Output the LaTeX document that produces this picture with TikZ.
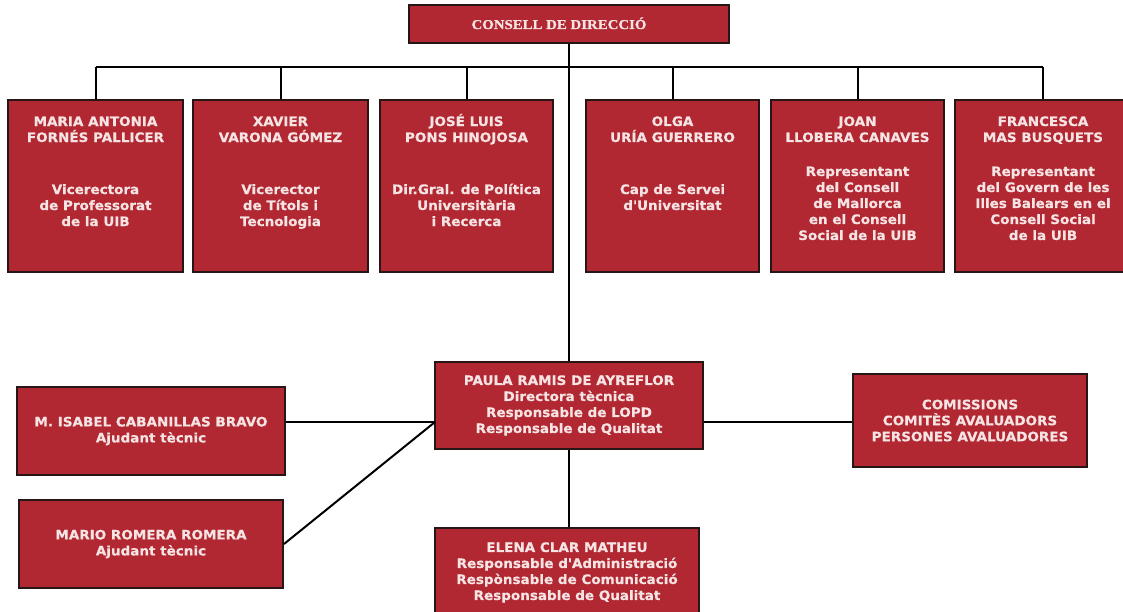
\documentclass[tikz,border=0pt]{standalone}
\usepackage{fontspec}
\setmainfont{DejaVu Sans}[FakeStretch=1.04, BoldFeatures={FakeBold=0.5}]
\newfontfamily\titlefont{Liberation Serif}[FakeStretch=1.1, BoldFeatures={FakeBold=0.8}]
\definecolor{boxred}{RGB}{178,40,50}
\definecolor{boxtext}{RGB}{246,228,228}
\definecolor{boxline}{RGB}{40,22,22}
\begin{document}
\begin{tikzpicture}[x=1pt,y=-1pt,
  box/.style={draw=boxline, line width=2pt, fill=boxred, inner sep=0pt},
  txt/.style={text=boxtext, font=\bfseries\fontsize{13}{16}\selectfont, align=center, inner sep=0pt},
  ttl/.style={text=boxtext, font=\titlefont\bfseries\fontsize{13.5}{14}\selectfont, inner sep=0pt},
  conn/.style={draw=black, line width=2pt}]
\path[use as bounding box, fill=white] (0,0) rectangle (1123,612);

% boxes
\node[box, minimum width=320pt, minimum height=38pt] (top) at (569,24) {};
\node[box, minimum width=175pt, minimum height=172pt] (m1) at (95.5,186) {};
\node[box, minimum width=175pt, minimum height=172pt] (m2) at (280.5,186) {};
\node[box, minimum width=173pt, minimum height=172pt] (m3) at (466.5,186) {};
\node[box, minimum width=173pt, minimum height=172pt] (m4) at (672.5,186) {};
\node[box, minimum width=173pt, minimum height=172pt] (m5) at (857.5,186) {};
\node[box, minimum width=176pt, minimum height=172pt] (m6) at (1043,186) {};

\node[box, txt, minimum width=268pt, minimum height=87pt] (paula) at (569,405.5)
  {PAULA RAMIS DE AYREFLOR\\Directora tècnica\\Responsable de LOPD\\Responsable de Qualitat};
\node[box, txt, minimum width=264pt, minimum height=89pt] (elena) at (567,572.5)
  {ELENA CLAR MATHEU\\Responsable d\textquotesingle Administració\\Respònsable de Comunicació\\Responsable de Qualitat};
\node[box, txt, minimum width=268pt, minimum height=88pt] (isabel) at (151,431)
  {M. ISABEL CABANILLAS BRAVO\\Ajudant tècnic};
\node[box, txt, minimum width=264pt, minimum height=88pt] (mario) at (151,544)
  {MARIO ROMERA ROMERA\\Ajudant tècnic};
\node[box, txt, minimum width=234pt, minimum height=93pt] (comm) at (970,420.5)
  {COMISSIONS\\COMITÈS AVALUADORS\\PERSONES AVALUADORES};

% texts of the upper boxes (anchored at the baseline of their last line)
\node[ttl, anchor=base] (ttop) at (559,29) {CONSELL DE DIRECCIÓ};
\node[txt, anchor=base] (t1) at (95.5,226) {MARIA ANTONIA\\FORNÉS PALLICER\\[36pt]Vicerectora\\de Professorat\\de la UIB};
\node[txt, anchor=base] (t2) at (280.5,226) {XAVIER\\VARONA GÓMEZ\\[36pt]Vicerector\\de Títols i\\Tecnologia};
\node[txt, anchor=base] (t3) at (466.5,226) {JOSÉ LUIS\\PONS HINOJOSA\\[36pt]Dir.Gral. de Política\\Universitària\\i Recerca};
\node[txt, anchor=base] (t4) at (672.5,210) {OLGA\\URÍA GUERRERO\\[36pt]Cap de Servei\\d\textquotesingle Universitat};
\node[txt, anchor=base] (t5) at (857.5,240) {JOAN\\LLOBERA CANAVES\\[18pt]Representant\\del Consell\\de Mallorca\\en el Consell\\Social de la UIB};
\node[txt, anchor=base] (t6) at (1043,240) {FRANCESCA\\MAS BUSQUETS\\[18pt]Representant\\del Govern de les\\Illes Balears en el\\Consell Social\\de la UIB};

% connectors
\foreach \i in {1,...,6} {
  \path (m\i.north) ++(0,-32) coordinate (b\i);
  \draw[conn] (b\i) -- (m\i.north);
}
\draw[conn] (b1) -- (b6);
\draw[conn] (top.south) -- (paula.north);
\draw[conn] (paula.south) -- (paula.south |- elena.north);
\coordinate (pj) at (435,422);
\draw[conn] (pj -| isabel.east) -- (pj);
\draw[conn] (mario.east) -- (pj);
\draw[conn] (pj -| paula.east) -- (pj -| comm.west);
\end{tikzpicture}
\end{document}
